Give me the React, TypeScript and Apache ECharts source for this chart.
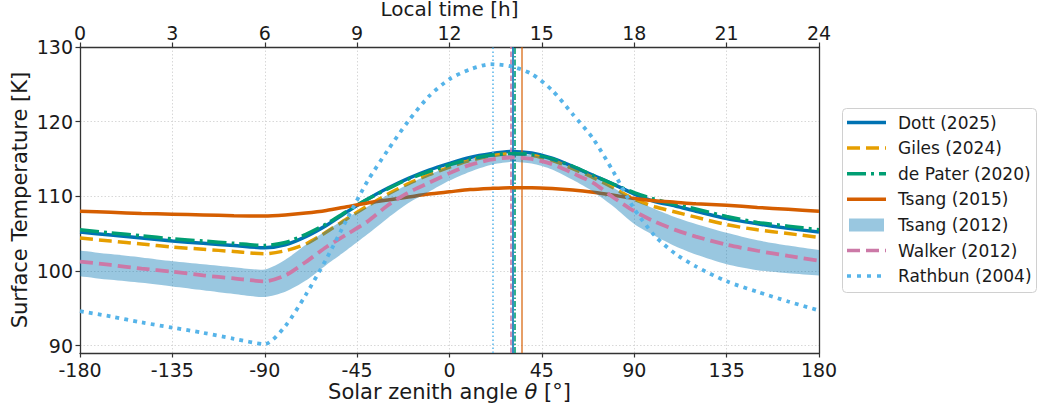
import React, { useEffect, useRef } from "react";
import * as echarts from "echarts";

// Solar zenith angle grid (deg)
const theta = [-180, -165, -150, -135, -120, -105, -90, -80, -70, -60, -50, -40, -30, -20, -10, 0, 10, 20, 30, 40, 50, 60, 70, 80, 90, 100, 110, 120, 135, 150, 165, 180];

const dott2025 = [105.2, 104.8, 104.4, 104.0, 103.7, 103.4, 103.1, 103.5, 104.6, 106.1, 107.9, 109.6, 111.1, 112.4, 113.5, 114.4, 115.2, 115.7, 116.0, 115.8, 115.1, 114.0, 112.8, 111.6, 110.3, 109.3, 108.7, 108.0, 107.0, 106.3, 105.7, 105.2];
const giles2024 = [104.4, 104.0, 103.6, 103.2, 102.9, 102.6, 102.3, 102.7, 103.6, 105.2, 107.0, 108.7, 110.3, 111.7, 112.9, 113.9, 114.8, 115.4, 115.7, 115.5, 114.8, 113.7, 112.5, 111.1, 109.6, 108.6, 107.9, 107.2, 106.2, 105.5, 105.0, 104.5];
const dePater2020 = [105.5, 105.1, 104.7, 104.3, 104.0, 103.7, 103.4, 103.8, 104.9, 106.3, 108.0, 109.6, 111.0, 112.3, 113.3, 114.2, 115.0, 115.5, 115.7, 115.6, 115.0, 114.0, 112.8, 111.6, 110.5, 109.6, 108.9, 108.3, 107.3, 106.5, 106.0, 105.5];
const tsang2015 = [108.0, 107.85, 107.7, 107.6, 107.5, 107.4, 107.35, 107.5, 107.75, 108.1, 108.6, 109.1, 109.5, 109.9, 110.3, 110.6, 110.9, 111.05, 111.15, 111.15, 111.05, 110.85, 110.55, 110.15, 109.7, 109.4, 109.2, 109.0, 108.8, 108.5, 108.25, 108.0];
const tsang2012Low = [99.3, 98.8, 98.4, 97.9, 97.4, 96.9, 96.5, 97.2, 98.7, 100.8, 102.8, 104.9, 107.1, 109.1, 110.6, 112.1, 113.3, 114.2, 114.6, 114.4, 113.6, 112.2, 110.6, 108.6, 106.3, 104.7, 103.3, 102.2, 100.9, 100.1, 99.7, 99.4];
const tsang2012High = [102.75, 102.25, 101.8, 101.3, 100.9, 100.5, 100.2, 101.5, 103.5, 105.4, 107.1, 108.6, 110.2, 111.6, 112.9, 114.0, 114.9, 115.4, 115.6, 115.5, 115.0, 114.0, 112.7, 111.1, 109.5, 108.3, 107.2, 106.3, 105.1, 104.1, 103.4, 102.8];
const walker2012 = [101.25, 100.8, 100.3, 99.9, 99.4, 99.0, 98.6, 99.4, 101.2, 103.2, 104.9, 106.6, 108.8, 110.5, 111.8, 113.1, 114.2, 114.9, 115.2, 115.0, 114.3, 113.1, 111.8, 109.8, 108.0, 106.6, 105.5, 104.6, 103.5, 102.7, 102.0, 101.35];
const rathbun2004 = [94.6, 93.9, 93.1, 92.4, 91.7, 90.9, 90.2, 92.6, 96.8, 101.6, 106.9, 112.0, 116.2, 120.1, 123.4, 125.7, 127.0, 127.7, 127.4, 126.4, 124.2, 121.0, 117.7, 113.2, 108.3, 104.7, 102.3, 100.6, 98.6, 97.2, 95.9, 94.7];

// Angle of maximum temperature for each model (deg)
const peakDott = 30.9;
const peakDePater = 31.7;
const peakTsang2015 = 35.3;
const peakWalker = 29.8;
const peakRathbun = 21.1;

const yTicks = [90, 100, 110, 120, 130];
const legendNames = ["Dott (2025)", "Giles (2024)", "de Pater (2020)", "Tsang (2015)", "Tsang (2012)", "Walker (2012)", "Rathbun (2004)"];

const C = {
  dott: "#0072B2",
  giles: "#E69F00",
  depater: "#009E73",
  tsang15: "#D55E00",
  band: "rgba(0,114,178,0.4)",
  walker: "#CC79A7",
  rathbun: "#56B4E9",
};
const FONT = "DejaVu Sans";

const pairs = (ys: number[]) => theta.map((t, i) => [t, ys[i]]);

function vline(x: number, color: string, type: any, width: number, opacity = 1) {
  return {
    silent: true,
    symbol: ["none", "none"],
    label: { show: false },
    animation: false,
    lineStyle: { color, type, width, opacity },
    data: [{ xAxis: x }],
  };
}

function lineSeries(name: string, ys: number[], color: string, dash: any, width: number, z: number, mark?: any) {
  return {
    name,
    type: "line",
    data: pairs(ys),
    showSymbol: false,
    symbol: "none",
    smooth: 0.25,
    z,
    lineStyle: { color, width, type: dash, cap: "butt" },
    markLine: mark,
  };
}

export default function App() {
  const ref = useRef<HTMLDivElement>(null);
  useEffect(() => {
    if (!ref.current) return;
    const chart = echarts.init(ref.current, null, { renderer: "svg" });

    const legendItems: any[] = [];
    const lx1 = 847, lx2 = 886, tx = 898, y0 = 122.5, dy = 25.6;
    const styles: any[] = [
      { stroke: C.dott, lineDash: null },
      { stroke: C.giles, lineDash: [13, 6] },
      { stroke: C.depater, lineDash: [19, 5, 3, 5] },
      { stroke: C.tsang15, lineDash: null },
      null,
      { stroke: C.walker, lineDash: [13, 6] },
      { stroke: C.rathbun, lineDash: [4, 6] },
    ];
    legendNames.forEach((n, i) => {
      const y = y0 + dy * i;
      const s = styles[i];
      if (s) {
        legendItems.push({
          type: "line",
          shape: { x1: lx1, y1: y, x2: lx2, y2: y },
          style: { stroke: s.stroke, lineWidth: 3.5, lineDash: s.lineDash, lineCap: "butt" },
        });
      } else {
        legendItems.push({
          type: "rect",
          shape: { x: 849, y: y - 6.5, width: 35, height: 13 },
          style: { fill: C.band },
        });
      }
      legendItems.push({
        type: "text",
        x: tx,
        y,
        style: { text: n, fill: "#1a1a1a", font: `17px "${FONT}"`, verticalAlign: "middle", align: "left" },
      });
    });

    const option: any = {
      animation: false,
      grid: { left: 80, right: 221, top: 47, bottom: 57, show: false, containLabel: false, outerBoundsMode: "none" },
      xAxis: [
        {
          type: "value",
          min: -180,
          max: 180,
          interval: 45,
          position: "bottom",
          name: "{n|Solar zenith angle }{i|θ}{n| [°]}",
          nameLocation: "middle",
          nameMoveOverlap: false,
          nameGap: 28,
          nameTextStyle: {
            rich: {
              n: { fontFamily: FONT, fontSize: 21, color: "#1a1a1a" },
              i: { fontFamily: FONT, fontSize: 21, fontStyle: "italic", color: "#1a1a1a" },
            },
          },
          axisLine: { show: true, onZero: false, lineStyle: { color: "#333", width: 1.3 } },
          axisTick: { show: true, length: 4.5, lineStyle: { color: "#333", width: 1.2 } },
          axisLabel: { fontFamily: FONT, fontSize: 19, color: "#1a1a1a", margin: 7 },
          splitLine: { show: true, lineStyle: { color: "#d4d4d4", type: [1.5, 2], width: 0.9 } },
        },
        {
          type: "value",
          min: 0,
          max: 24,
          interval: 3,
          position: "top",
          name: "Local time [h]",
          nameLocation: "middle",
          nameMoveOverlap: false,
          nameGap: 28,
          nameTextStyle: { fontFamily: FONT, fontSize: 20, lineHeight: 20, color: "#1a1a1a" },
          axisLine: { show: true, onZero: false, lineStyle: { color: "#333", width: 1.3 } },
          axisTick: { show: true, length: 4.5, lineStyle: { color: "#333", width: 1.2 } },
          axisLabel: { fontFamily: FONT, fontSize: 19, lineHeight: 19, color: "#1a1a1a", margin: 5 },
          splitLine: { show: false },
        },
      ],
      yAxis: [
        {
          type: "value",
          min: 89,
          max: 130,
          position: "left",
          name: "Surface Temperature [K]",
          nameLocation: "middle",
          nameMoveOverlap: false,
          nameGap: 50,
          nameTextStyle: { fontFamily: FONT, fontSize: 21, color: "#1a1a1a" },
          axisLine: { show: true, onZero: false, lineStyle: { color: "#333", width: 1.3 } },
          axisTick: { show: true, length: 4.5, customValues: yTicks, lineStyle: { color: "#333", width: 1.2 } },
          axisLabel: { fontFamily: FONT, fontSize: 19, color: "#1a1a1a", margin: 7, customValues: yTicks },
          splitLine: { show: true, lineStyle: { color: "#d4d4d4", type: [1.5, 2], width: 0.9 } },
        },
        {
          type: "value",
          min: 89,
          max: 130,
          position: "right",
          axisLine: { show: true, onZero: false, lineStyle: { color: "#333", width: 1.3 } },
          axisTick: { show: false },
          axisLabel: { show: false },
          splitLine: { show: false },
        },
      ],
      series: [
        lineSeries("Dott (2025)", dott2025, C.dott, "solid", 3.5, 3, vline(peakDott, C.dott, "solid", 1.6)),
        lineSeries("Giles (2024)", giles2024, C.giles, [13, 6], 3.5, 4),
        lineSeries("de Pater (2020)", dePater2020, C.depater, [19, 5, 3, 5], 3.5, 5, vline(peakDePater, C.depater, [6, 2, 1.5, 2], 1.6)),
        lineSeries("Tsang (2015)", tsang2015, C.tsang15, "solid", 3.5, 6, vline(peakTsang2015, C.tsang15, "solid", 1.6, 0.75)),
        {
          name: "Tsang (2012)",
          type: "custom",
          clip: true,
          z: 7,
          data: [0],
          renderItem: (params: any, api: any) => {
            const n = theta.length;
            const pts: number[][] = [];
            pts.push(api.coord([theta[0], tsang2012High[0]]));
            for (let i = 0; i < n; i++) pts.push(api.coord([theta[i], tsang2012High[i]]));
            pts.push(api.coord([theta[n - 1], tsang2012High[n - 1]]));
            pts.push(api.coord([theta[n - 1], tsang2012Low[n - 1]]));
            for (let i = n - 1; i >= 0; i--) pts.push(api.coord([theta[i], tsang2012Low[i]]));
            pts.push(api.coord([theta[0], tsang2012Low[0]]));
            return { type: "polygon", shape: { points: pts, smooth: 0.25 }, style: { fill: C.band } };
          },
        },
        lineSeries("Walker (2012)", walker2012, C.walker, [13, 6], 3.8, 8, vline(peakWalker, C.walker, [5.5, 2.5], 1.6)),
        lineSeries("Rathbun (2004)", rathbun2004, C.rathbun, [3.8, 5.2], 3.8, 9, vline(peakRathbun, C.rathbun, [1.5, 2.5], 1.5)),
      ],
      graphic: [
        {
          type: "group",
          children: [
            {
              type: "rect",
              shape: { x: 842.5, y: 108.5, width: 194, height: 184, r: 4 },
              style: { fill: "rgba(255,255,255,0.85)", stroke: "#d0d0d0", lineWidth: 1 },
            },
            ...legendItems,
          ],
        },
      ],
    };
    chart.setOption(option);
    return () => chart.dispose();
  }, []);
  return <div ref={ref} style={{ width: 1040, height: 410, position: "absolute", left: 0, top: 0 }} />;
}
